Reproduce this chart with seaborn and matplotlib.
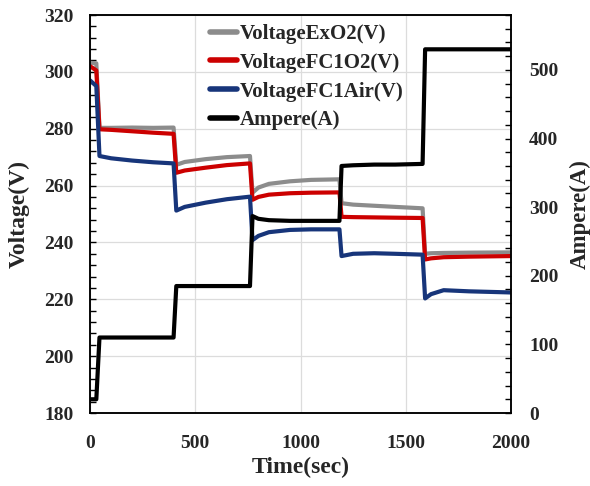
import matplotlib
matplotlib.use("Agg")
import matplotlib.pyplot as plt
import seaborn as sns
from matplotlib.ticker import MultipleLocator, AutoMinorLocator

# time axis (sec), shared by all series
time_s = [0, 30, 45, 100, 200, 300, 397, 410, 450, 550, 650, 760, 772, 800, 850,
          950, 1050, 1185, 1195, 1250, 1350, 1450, 1580, 1592, 1620, 1680, 1800, 2000]

volt_exo2 = [303.2, 303.0, 280.3, 280.3, 280.4, 280.3, 280.4, 267.3, 268.3, 269.3,
             270.0, 270.4, 257.5, 259.3, 260.6, 261.5, 262.0, 262.2, 253.8, 253.3,
             252.9, 252.5, 252.0, 236.0, 236.2, 236.3, 236.4, 236.5]
volt_fc1o2 = [302.0, 300.5, 279.8, 279.6, 279.1, 278.6, 278.2, 264.5, 265.3, 266.3,
              267.2, 267.8, 255.0, 256.0, 256.8, 257.3, 257.5, 257.6, 249.0, 248.9,
              248.8, 248.7, 248.6, 234.0, 234.4, 234.8, 235.0, 235.2]
volt_fc1air = [297.0, 295.0, 270.4, 269.6, 268.8, 268.2, 267.8, 251.2, 252.5, 254.0,
               255.2, 256.1, 240.8, 242.3, 243.6, 244.4, 244.6, 244.6, 235.2, 236.0,
               236.2, 236.0, 235.7, 220.3, 221.8, 223.2, 222.8, 222.4]
ampere = [20, 20, 110, 110, 110, 110, 110, 185, 185, 185, 185, 185, 287, 283, 281,
          280, 280, 280, 360, 361, 362, 362, 363, 530, 530, 530, 530, 530]

colors = {"VoltageExO2(V)": "#8c8c8c", "VoltageFC1O2(V)": "#cc0000",
          "VoltageFC1Air(V)": "#17357a", "Ampere(A)": "#000000"}

sns.set_theme(style="white")
plt.rcParams["font.family"] = ["Liberation Serif", "DejaVu Serif"]
plt.rcParams["font.weight"] = "bold"

fig = plt.figure(figsize=(5.9, 4.86), dpi=100)
ax = fig.add_axes([90 / 590, 73 / 486, 421 / 590, 398 / 486])
ax2 = ax.twinx()

lw = 3.0
for name, vals in [("VoltageExO2(V)", volt_exo2), ("VoltageFC1O2(V)", volt_fc1o2),
                   ("VoltageFC1Air(V)", volt_fc1air)]:
    sns.lineplot(x=time_s, y=vals, ax=ax, color=colors[name], linewidth=lw,
                 label=name, legend=False)
sns.lineplot(x=time_s, y=ampere, ax=ax2, color=colors["Ampere(A)"], linewidth=lw,
             label="Ampere(A)", legend=False)

ax.set_xlim(0, 2000)
ax.set_ylim(180, 320)
ax2.set_ylim(0, 580)
ax.xaxis.set_major_locator(MultipleLocator(500))
ax.xaxis.set_minor_locator(AutoMinorLocator(5))
ax.yaxis.set_major_locator(MultipleLocator(20))
ax.yaxis.set_minor_locator(AutoMinorLocator(5))
ax2.yaxis.set_major_locator(MultipleLocator(100))
ax2.yaxis.set_minor_locator(AutoMinorLocator(5))
ax2.set_yticks([0, 100, 200, 300, 400, 500])

ax.grid(True, which="major", color="#dcdcdc", linewidth=0.9)
ax.set_axisbelow(True)

for a in (ax, ax2):
    for sp in a.spines.values():
        sp.set_color("black")
        sp.set_linewidth(1.1)
ax.tick_params(axis="both", which="both", direction="in", length=4.5, width=1,
               labelsize=14, color="black")
ax.tick_params(axis="x", which="both", pad=16, top=False)
ax.tick_params(axis="y", which="both", pad=12, right=False)
ax2.tick_params(axis="y", which="both", direction="in", length=4.5, width=1,
                labelsize=14, pad=13, color="black")
for lab in ax.get_xticklabels() + ax.get_yticklabels() + ax2.get_yticklabels():
    lab.set_fontweight("bold")

ax.set_xlabel("Time(sec)", fontsize=17, fontweight="bold", labelpad=3)
ax.set_ylabel("Voltage(V)", fontsize=17, fontweight="bold", labelpad=10)
ax2.set_ylabel("Ampere(A)", fontsize=16.5, fontweight="bold", rotation=90, labelpad=8)

h1, l1 = ax.get_legend_handles_labels()
h2, l2 = ax2.get_legend_handles_labels()
leg = fig.legend(h1 + h2, l1 + l2, loc="upper left", bbox_to_anchor=(210 / 590, 1 - 24 / 486),
                 frameon=False, fontsize=15, handlelength=1.3, handletextpad=0.15,
                 labelspacing=0.42, borderpad=0, borderaxespad=0)
for t in leg.get_texts():
    t.set_fontweight("bold")
for ln in leg.get_lines():
    ln.set_linewidth(4)

fig.savefig("out.png", dpi=100)
